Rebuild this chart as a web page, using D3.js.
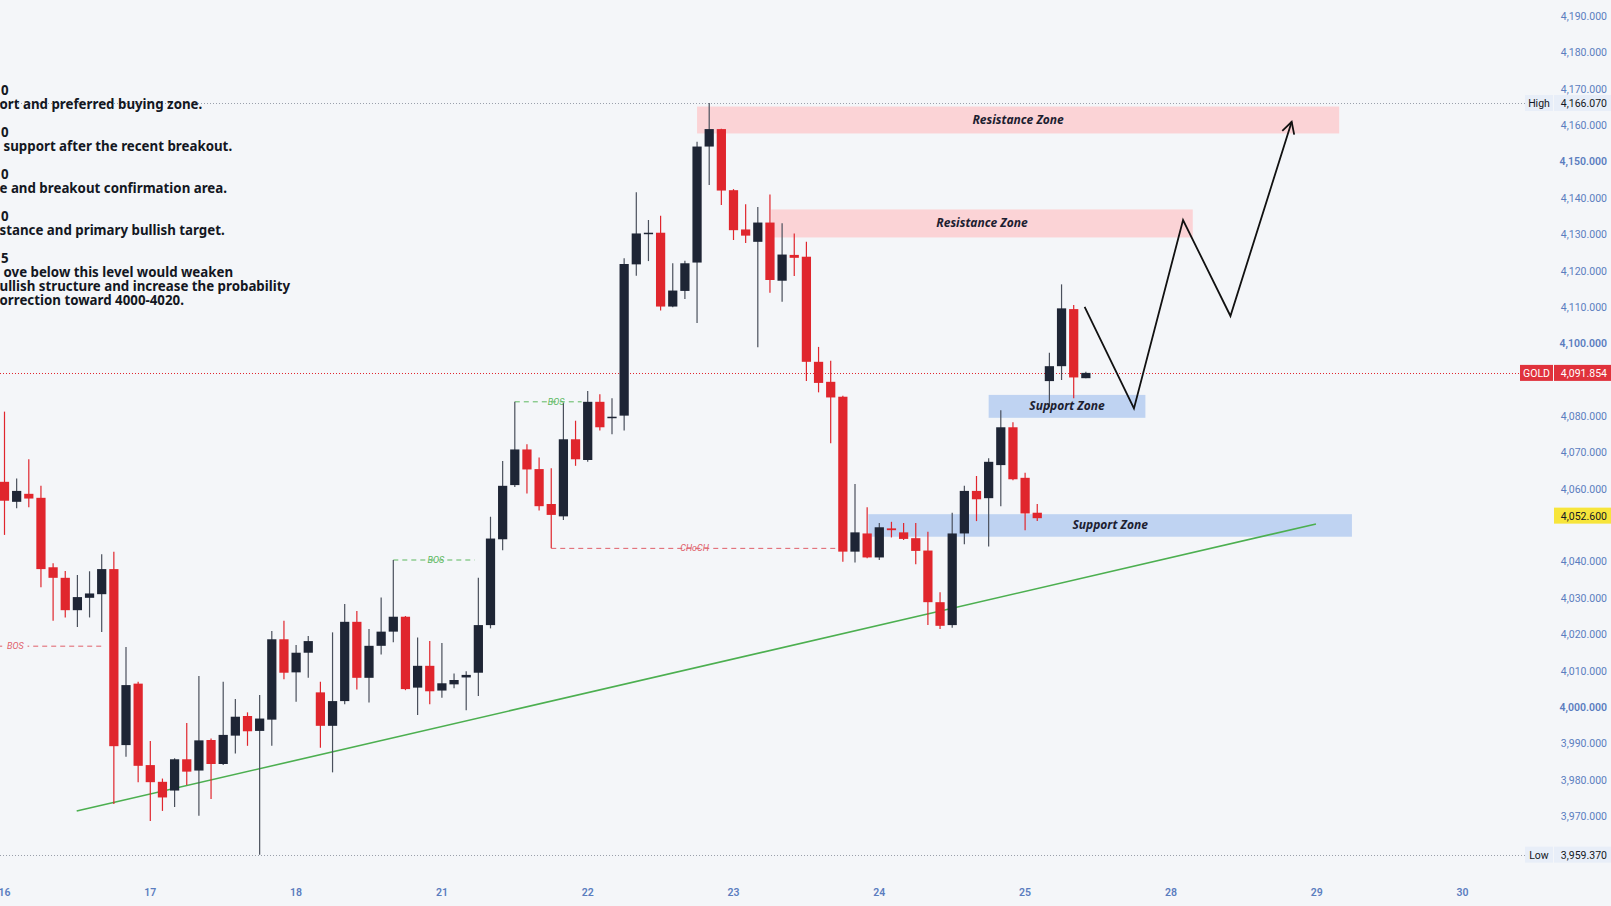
<!DOCTYPE html>
<html>
<head>
<meta charset="utf-8">
<script src="https://cdn.jsdelivr.net/npm/d3@7"></script>
<style>
  html, body { margin: 0; padding: 0; background: #f4f6f9; overflow: hidden; }
  svg { display: block; }
</style>
</head>
<body>
<div id="chart"></div>
<script>
(function() {
"use strict";

// ---- data (2h bars) ----
const FIRST_BAR = -12; // bar index of the first candle, 0 = first bar of the 17th

const opens = [
  4061.9, 4056.4, 4058.6, 4057.5, 4038.4, 4035.5, 4026.6, 4030.0, 4031.0, 4037.9, 3989.5, 4006.4,
  3984.0, 3979.4, 3977.0, 3985.6, 3982.5, 3990.9, 3984.3, 3992.1, 3997.5, 3993.4, 3996.5, 4018.6,
  4009.5, 4014.9, 4004.0, 3994.8, 4001.6, 4023.4, 4008.0, 4016.8, 4020.7, 4024.8, 4005.3, 4011.3,
  4004.5, 4006.2, 4008.1, 4009.4, 4022.5, 4046.1, 4061.0, 4070.8, 4065.4, 4055.8, 4052.4, 4073.6,
  4067.9, 4083.9, 4079.4, 4080.1, 4121.7, 4130.2, 4130.4, 4110.1, 4114.4, 4122.2, 4154.1, 4158.9,
  4142.1, 4131.3, 4127.9, 4133.2, 4117.2, 4124.3, 4123.8, 4094.9, 4089.4, 4085.3, 4042.7, 4047.7,
  4041.1, 4049.1, 4048.0, 4046.4, 4043.0, 4028.8, 4022.5, 4047.7, 4059.4, 4057.4, 4066.5, 4076.9,
  4063.0, 4053.4, 4089.6, 4093.7, 4109.4, 4090.4
];
const highs = [
  4081.2, 4062.8, 4068.1, 4060.8, 4039.5, 4037.4, 4036.3, 4037.3, 4042.0, 4042.7, 4016.5, 4006.9,
  3990.6, 3980.3, 3985.9, 3995.6, 4008.5, 3991.3, 4006.9, 4002.2, 3998.5, 4003.3, 4020.9, 4023.7,
  4017.0, 4019.5, 4006.9, 4020.5, 4028.3, 4026.4, 4021.4, 4030.1, 4040.4, 4025.0, 4019.1, 4018.1,
  4017.6, 4009.2, 4009.8, 4035.5, 4052.3, 4067.6, 4083.9, 4072.2, 4068.6, 4065.6, 4083.5, 4078.7,
  4086.9, 4086.0, 4084.9, 4123.4, 4141.5, 4133.9, 4135.1, 4122.0, 4122.7, 4155.4, 4166.07, 4159.0,
  4142.4, 4138.2, 4137.5, 4140.9, 4133.0, 4130.2, 4127.9, 4099.0, 4095.2, 4085.6, 4061.3, 4054.9,
  4050.6, 4050.9, 4050.6, 4050.6, 4048.2, 4031.5, 4053.4, 4060.8, 4063.5, 4068.4, 4081.6, 4078.3,
  4064.4, 4055.8, 4097.4, 4116.2, 4110.5, 4092.2
];
const lows = [
  4047.3, 4054.6, 4054.9, 4032.9, 4023.7, 4024.6, 4022.0, 4024.6, 4020.6, 3973.3, 3986.3, 3979.3,
  3968.6, 3971.4, 3972.5, 3978.5, 3970.1, 3974.7, 3984.0, 3987.2, 3989.3, 3959.37, 3989.3, 4007.6,
  4001.4, 4008.0, 3988.8, 3982.0, 4000.7, 4004.8, 4001.2, 4014.4, 4017.8, 4004.6, 3997.8, 4000.7,
  4002.5, 4005.1, 3999.1, 4003.0, 4021.6, 4043.1, 4060.5, 4058.7, 4054.0, 4043.6, 4051.4, 4066.3,
  4067.4, 4076.0, 4075.0, 4076.0, 4118.6, 4122.6, 4109.0, 4109.9, 4112.2, 4105.6, 4143.5, 4138.0,
  4128.4, 4127.6, 4098.9, 4113.9, 4111.4, 4118.5, 4089.6, 4086.5, 4072.5, 4039.9, 4039.7, 4040.9,
  4040.4, 4046.6, 4045.9, 4039.2, 4022.5, 4021.4, 4021.8, 4044.7, 4051.1, 4044.1, 4055.2, 4062.3,
  4048.6, 4051.1, 4082.5, 4089.9, 4084.9, 4090.4
];
const closes = [
  4056.7, 4059.4, 4057.3, 4037.9, 4035.5, 4026.6, 4030.2, 4031.2, 4037.9, 3989.2, 4006.0, 3983.8,
  3979.3, 3975.1, 3985.6, 3982.2, 3990.8, 3984.3, 3992.3, 3997.3, 3993.3, 3996.8, 4018.6, 4009.4,
  4014.9, 4018.1, 3994.8, 4001.6, 4023.4, 4008.0, 4016.8, 4020.7, 4024.8, 4004.9, 4011.3, 4004.3,
  4006.5, 4007.4, 4008.8, 4022.5, 4046.3, 4060.8, 4070.8, 4065.3, 4055.2, 4052.8, 4073.6, 4068.1,
  4083.9, 4076.9, 4079.8, 4121.8, 4130.2, 4130.4, 4110.1, 4114.5, 4122.0, 4154.1, 4158.9, 4142.0,
  4131.1, 4129.6, 4133.2, 4117.4, 4124.4, 4123.5, 4094.9, 4089.1, 4085.1, 4042.7, 4048.0, 4041.1,
  4049.4, 4048.6, 4046.2, 4042.9, 4028.8, 4022.3, 4047.7, 4059.4, 4057.1, 4067.4, 4076.9, 4062.6,
  4053.2, 4051.9, 4093.7, 4109.6, 4090.6, 4091.854
];

const dayLabels = ["16", "17", "18", "21", "22", "23", "24", "25", "28", "29", "30"];
const dayFirstBar = [-12, 0, 12, 24, 36, 48, 60, 72, 84, 96, 108];

// 4,090 and 4,050 sit under the GOLD and marked-price tags, so they are left out
const priceTicks = [3970, 3980, 3990, 4000, 4010, 4020, 4030, 4040, 4060, 4070, 4080,
  4100, 4110, 4120, 4130, 4140, 4150, 4160, 4170, 4180, 4190];
const strongTicks = [4000, 4100, 4150];

const HIGH = 4166.07;
const LOW = 3959.37;
const LAST = 4091.854;
const MARKED = 4052.6;

// zones: bar range and price range
const zoneLabels = ["Resistance Zone", "Resistance Zone", "Support Zone", "Support Zone"];
const zoneKinds = ["res", "res", "sup", "sup"];
const zoneFrom = [45.0, 51.1, 69.0, 59.1];
const zoneTo = [97.85, 85.8, 81.9, 98.9];
const zoneTop = [4165.1, 4136.8, 4085.8, 4053.0];
const zoneBottom = [4157.7, 4129.1, 4079.5, 4046.8];

// market structure marks
const structLabels = ["BOS", "BOS", "BOS", "CHoCH"];
const structKinds = ["bear", "bull", "bull", "bear"];
const structPrice = [4016.7, 4040.4, 4083.9, 4043.6];
const structFrom = [-12.6, 20, 30, 33];
const structTo = [-4, 26.7, 35.5, 56.5];
const structText = [-11.1, 23.5, 33.4, 44.8];

const trendBars = [-6.06, 95.94];
const trendPrices = [3971.35, 4050.3];

const pathBars = [76.9, 80.96, 85.0, 88.9, 93.94];
const pathPrices = [4110.0, 4082.1, 4133.9, 4107.5, 4160.9];

// left note fragments (text is cut off by the left edge in the reference)
const noteHeads = ["0", "0", "0", "0", "5"];
const noteLines = [
  ["ort and preferred buying zone."],
  ["support after the recent breakout."],
  ["e and breakout confirmation area."],
  ["stance and primary bullish target."],
  ["ove below this level would weaken", "ullish structure and increase the probability", "orrection toward 4000-4020."]
];

// ---- layout ----
const WIDTH = 1611;
const HEIGHT = 906;

const BG = "#f4f6f9";
const UP = "#1e2535";
const UP_WICK = "#4a505c";
const DOWN = "#e0262d";
const AXIS_TEXT = "#5b7dbf";
const FONT = "Roboto, 'Noto Sans', sans-serif";

const xScale = d3.scaleLinear().domain([0, 108]).range([150.3, 1462.5]);
const yScale = d3.scaleLinear().domain([3970, 4190]).range([816, 16]);
const barW = (xScale(1) - xScale(0)) * 0.76;

const svg = d3.select("#chart")
  .append("svg")
  .attr("width", WIDTH)
  .attr("height", HEIGHT)
  .style("background", BG);

// zones (under everything)
const zoneG = svg.append("g").attr("class", "zones");
zoneLabels.forEach((label, k) => {
  const x0 = xScale(zoneFrom[k]), x1 = xScale(zoneTo[k]);
  const y0 = yScale(zoneTop[k]), y1 = yScale(zoneBottom[k]);
  zoneG.append("rect")
    .attr("x", x0).attr("y", y0)
    .attr("width", x1 - x0).attr("height", y1 - y0)
    .attr("fill", zoneKinds[k] === "res" ? "#fbd3d6" : "#bfd3f2");
});

// trend line
svg.append("line")
  .attr("x1", xScale(trendBars[0])).attr("y1", yScale(trendPrices[0]))
  .attr("x2", xScale(trendBars[1])).attr("y2", yScale(trendPrices[1]))
  .attr("stroke", "#4caf50").attr("stroke-width", 1.6);

// high / low / last price lines
function hline(price, color, x2) {
  svg.append("line")
    .attr("x1", 0).attr("x2", x2)
    .attr("y1", Math.round(yScale(price)) + 0.5).attr("y2", Math.round(yScale(price)) + 0.5)
    .attr("stroke", color).attr("stroke-width", 1)
    .attr("stroke-dasharray", "1,2");
}
hline(HIGH, "#9aa0ab", 1525);
hline(LOW, "#9aa0ab", 1525);
hline(LAST, "#e0262d", 1520);

// structure marks
const structG = svg.append("g").attr("class", "structure");
structLabels.forEach((label, k) => {
  const color = structKinds[k] === "bull" ? "#5cb85f" : "#e0606a";
  const y = yScale(structPrice[k]);
  structG.append("line")
    .attr("x1", xScale(structFrom[k])).attr("x2", xScale(structTo[k]))
    .attr("y1", y).attr("y2", y)
    .attr("stroke", color).attr("stroke-width", 1)
    .attr("stroke-dasharray", "5,4");
  const t = structG.append("text")
    .attr("x", xScale(structText[k])).attr("y", y + 3)
    .attr("text-anchor", "middle")
    .attr("font-family", FONT).attr("font-style", "italic")
    .attr("font-size", 9).attr("fill", color)
    .text(label);
  const bb = t.node().getBBox();
  structG.insert("rect", "text")
    .attr("x", bb.x - 3).attr("y", y - 2)
    .attr("width", bb.width + 6).attr("height", 4)
    .attr("fill", BG);
});

// candles
const bars = opens.map((o, k) => ({
  i: FIRST_BAR + k, o: o, h: highs[k], l: lows[k], c: closes[k]
}));

const candleG = svg.append("g").attr("class", "candles");
candleG.selectAll("line")
  .data(bars)
  .enter()
  .append("line")
    .attr("x1", d => xScale(d.i)).attr("x2", d => xScale(d.i))
    .attr("y1", d => yScale(d.h)).attr("y2", d => yScale(d.l))
    .attr("stroke", d => d.c >= d.o ? UP_WICK : DOWN)
    .attr("stroke-width", 1.2);

candleG.selectAll("rect")
  .data(bars)
  .enter()
  .append("rect")
    .attr("x", d => xScale(d.i) - barW / 2)
    .attr("y", d => yScale(Math.max(d.o, d.c)))
    .attr("width", barW)
    .attr("height", d => Math.max(1.5, Math.abs(yScale(d.o) - yScale(d.c))))
    .attr("fill", d => d.c >= d.o ? UP : DOWN);

// zone labels
zoneLabels.forEach((label, k) => {
  svg.append("text")
    .attr("x", (xScale(zoneFrom[k]) + xScale(zoneTo[k])) / 2)
    .attr("y", (yScale(zoneTop[k]) + yScale(zoneBottom[k])) / 2 + 4)
    .attr("text-anchor", "middle")
    .attr("font-family", "'Noto Sans', sans-serif")
    .attr("font-style", "italic").attr("font-weight", 700)
    .attr("font-size", 12).attr("fill", "#1c2030")
    .text(label);
});

// projected path with arrow head
const line = d3.line().x(d => xScale(d[0])).y(d => yScale(d[1]));
const pts = pathBars.map((b, k) => [b, pathPrices[k]]);
svg.append("path")
  .attr("d", line(pts))
  .attr("fill", "none").attr("stroke", "#111").attr("stroke-width", 1.8)
  .attr("stroke-linejoin", "miter");

const tip = pts[pts.length - 1], prev = pts[pts.length - 2];
const tx = xScale(tip[0]), ty = yScale(tip[1]);
const ang = Math.atan2(ty - yScale(prev[1]), tx - xScale(prev[0]));
const headLen = 13, spread = 0.5;
svg.append("path")
  .attr("d", `M${tx - headLen * Math.cos(ang - spread)},${ty - headLen * Math.sin(ang - spread)}` +
             `L${tx},${ty}` +
             `L${tx - headLen * Math.cos(ang + spread)},${ty - headLen * Math.sin(ang + spread)}`)
  .attr("fill", "none").attr("stroke", "#111").attr("stroke-width", 1.8);

// left notes: one text block per note, lines as tspans
const noteG = svg.append("g").attr("class", "notes")
  .attr("font-family", "'Noto Sans', sans-serif")
  .attr("font-weight", 700).attr("font-size", 13.3).attr("fill", "#131722");
let ny = 95;
noteHeads.forEach((head, k) => {
  const t = noteG.append("text").attr("y", ny);
  t.append("tspan").attr("x", 8.5).attr("text-anchor", "end").text(head);
  noteLines[k].forEach((s, j) => {
    t.append("tspan")
      .attr("x", k === 1 || (k === 4 && j === 0) ? 3.5 : -0.5)
      .attr("y", ny + 13.8 + j * 14)
      .attr("text-anchor", "start")
      .text(s);
  });
  ny += 42.1;
});

// price axis
const axisG = svg.append("g").attr("class", "price-axis")
  .attr("font-family", FONT).attr("font-size", 10.5);
axisG.selectAll("text")
  .data(priceTicks)
  .enter()
  .append("text")
    .attr("x", 1607)
    .attr("y", d => yScale(d) + 4)
    .attr("text-anchor", "end")
    .attr("fill", AXIS_TEXT)
    .attr("font-weight", d => strongTicks.includes(d) ? 600 : 400)
    .text(d => d3.format(",.3f")(d));

function priceTag(price, name, opts) {
  const y = yScale(price);
  const g = svg.append("g").attr("font-family", FONT).attr("font-size", 10.5);
  if (name) {
    g.append("rect").attr("x", opts.nameX).attr("y", y - 8).attr("width", 1554 - opts.nameX - 1)
      .attr("height", 16).attr("fill", opts.nameBg);
    g.append("text").attr("x", (opts.nameX + 1553) / 2).attr("y", y + 4)
      .attr("text-anchor", "middle").attr("fill", opts.nameColor).text(name);
  }
  g.append("rect").attr("x", 1554).attr("y", y - 8).attr("width", WIDTH - 1554)
    .attr("height", 16).attr("fill", opts.bg);
  g.append("text").attr("x", 1607).attr("y", y + 4)
    .attr("text-anchor", "end").attr("fill", opts.color)
    .text(d3.format(",.3f")(price));
}
priceTag(HIGH, "High", { nameX: 1525, nameBg: "#e8eef8", nameColor: "#131722", bg: "#e8eef8", color: "#131722" });
priceTag(LOW, "Low", { nameX: 1525, nameBg: "#e8eef8", nameColor: "#131722", bg: "#e8eef8", color: "#131722" });
priceTag(MARKED, null, { bg: "#f7e53b", color: "#131722" });
priceTag(LAST, "GOLD", { nameX: 1520, nameBg: "#e0323c", nameColor: "#fff", bg: "#e0323c", color: "#fff" });

// time axis
const timeG = svg.append("g").attr("class", "time-axis")
  .attr("font-family", FONT).attr("font-size", 10.5).attr("font-weight", 600);
timeG.selectAll("text")
  .data(dayLabels)
  .enter()
  .append("text")
    .attr("x", (d, k) => xScale(dayFirstBar[k]))
    .attr("y", 896)
    .attr("text-anchor", "middle")
    .attr("fill", AXIS_TEXT)
    .text(d => d);

})();
</script>
</body>
</html>
